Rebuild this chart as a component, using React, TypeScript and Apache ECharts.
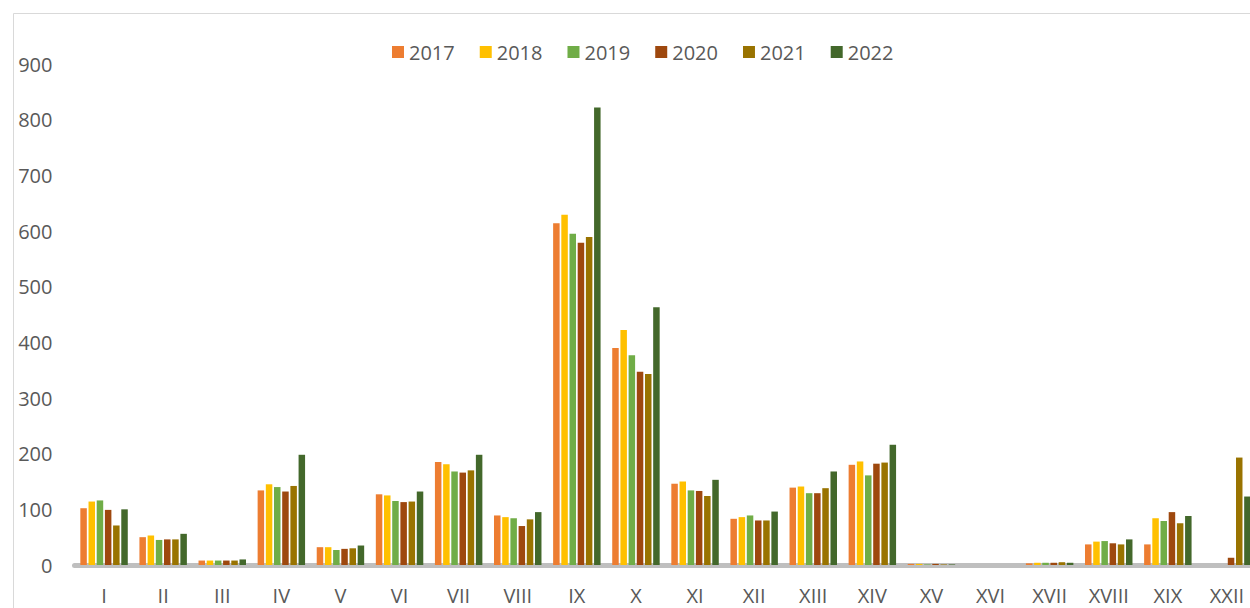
import React, { useEffect, useRef } from "react";
import * as echarts from "echarts";

const categories = ["I", "II", "III", "IV", "V", "VI", "VII", "VIII", "IX", "X", "XI", "XII", "XIII", "XIV", "XV", "XVI", "XVII", "XVIII", "XIX", "XXII"];
const years = ["2017", "2018", "2019", "2020", "2021", "2022"];
const colors = ["#ED7D31", "#FFC000", "#70AD47", "#9E480E", "#997300", "#43682B"];

const v2017 = [102, 50, 8, 134, 32, 127, 185, 89, 614, 390, 146, 83, 139, 180, 2, 0, 3, 37, 37, 0];
const v2018 = [114, 53, 8, 145, 32, 125, 181, 86, 629, 422, 150, 86, 141, 186, 2, 0, 4, 42, 84, 0];
const v2019 = [116, 45, 8, 140, 27, 115, 168, 84, 595, 377, 134, 89, 129, 161, 1, 0, 4, 43, 79, 0];
const v2020 = [99, 46, 8, 132, 29, 113, 166, 70, 579, 347, 133, 80, 129, 182, 2, 0, 4, 39, 95, 13];
const v2021 = [71, 46, 8, 142, 30, 114, 170, 82, 589, 343, 124, 80, 138, 184, 1, 0, 5, 37, 75, 193];
const v2022 = [100, 56, 10, 198, 35, 132, 198, 95, 822, 463, 153, 96, 168, 216, 1, 0, 4, 46, 88, 123];
const seriesValues = [v2017, v2018, v2019, v2020, v2021, v2022];
const yTicks = [0, 100, 200, 300, 400, 500, 600, 700, 800, 900];

const FONT = "Open Sans";
const TEXT = "#595959";

export default function App() {
  const ref = useRef<HTMLDivElement>(null);
  useEffect(() => {
    if (!ref.current) return;
    const chart = echarts.init(ref.current, undefined, { renderer: "svg" });
    chart.setOption({
      animation: false,
      backgroundColor: "#ffffff",
      textStyle: { fontFamily: FONT },
      legend: {
        data: years,
        left: 387,
        top: 37,
        itemWidth: 12,
        itemHeight: 12,
        itemGap: 25,
        icon: "rect",
        textStyle: { fontFamily: FONT, fontSize: 20, color: TEXT },
      },
      grid: { left: 74.5, top: 64, width: 1182, bottom: 43, containLabel: false },
      xAxis: {
        type: "category",
        data: categories,
        axisLine: { show: true, lineStyle: { color: "#BFBFBF", width: 5 } },
        axisTick: { show: false },
        axisLabel: { fontFamily: FONT, fontSize: 20, color: TEXT, margin: 20, interval: 0 },
      },
      yAxis: {
        type: "value",
        min: yTicks[0],
        max: yTicks[yTicks.length - 1],
        interval: 100,
        splitLine: { show: false },
        axisLine: { show: false },
        axisTick: { show: false },
        axisLabel: { fontFamily: FONT, fontSize: 20, color: TEXT, margin: 22 },
      },
      graphic: [
        {
          type: "rect",
          shape: { x: 13.5, y: 13.5, width: 1400, height: 700 },
          style: { fill: "none", stroke: "#D9D9D9", lineWidth: 1 },
          silent: true,
          z: -1,
        },
      ],
      series: years.map((y, i) => ({
        name: y,
        type: "bar",
        data: seriesValues[i],
        barWidth: 6.5,
        barGap: "26%",
        itemStyle: { color: colors[i] },
      })),
    });
    return () => chart.dispose();
  }, []);
  return (
    <div style={{ position: "absolute", left: 0, top: 0, width: 1250, height: 608, overflow: "hidden", background: "#fff" }}>
      <div ref={ref} style={{ position: "absolute", left: 0, top: 0, width: 1320, height: 608 }} />
    </div>
  );
}
